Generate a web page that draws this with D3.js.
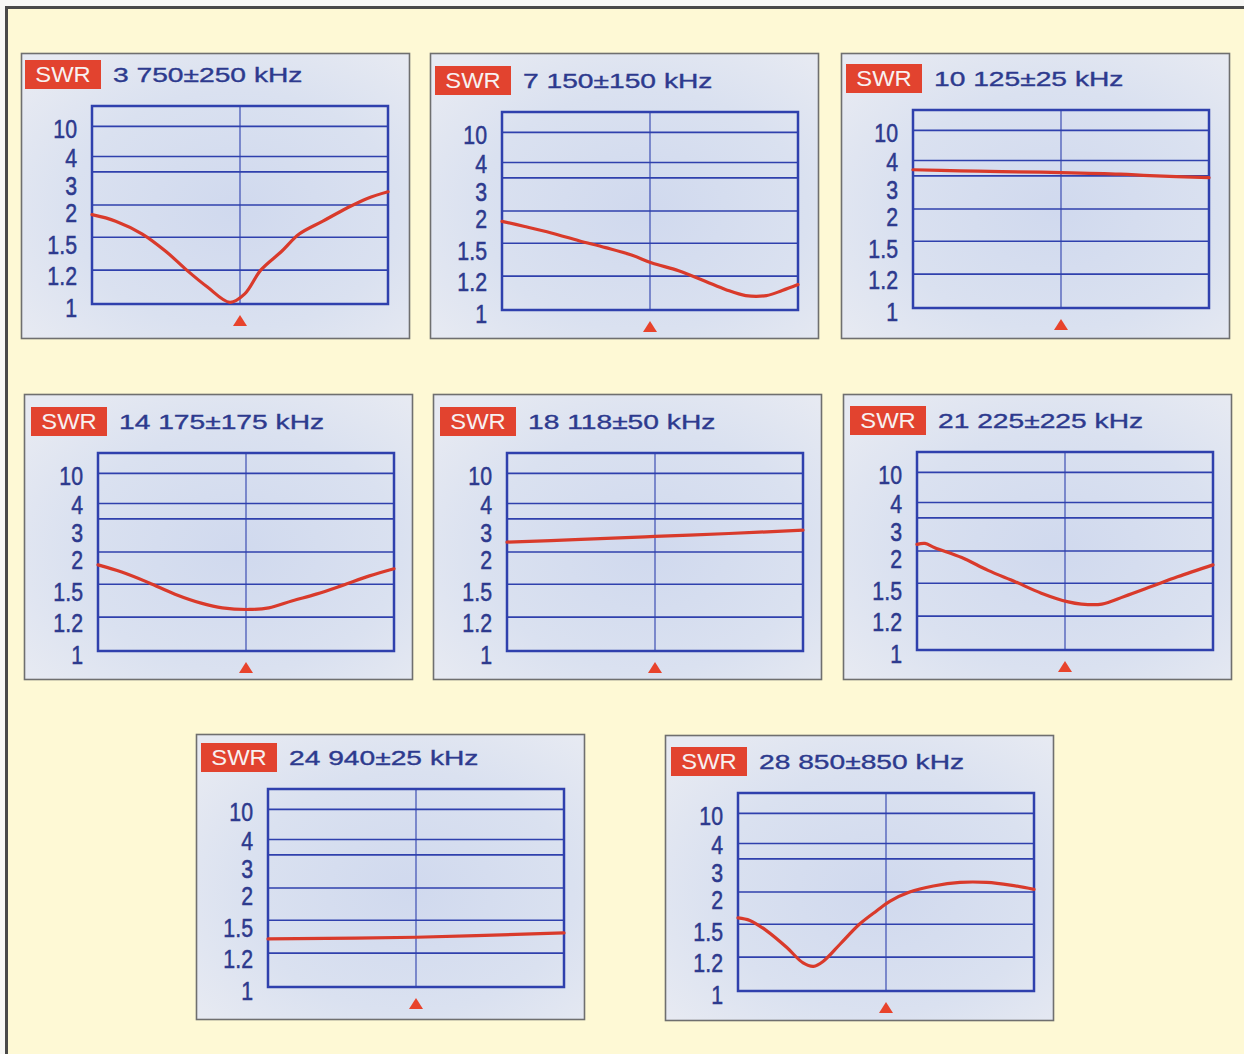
<!DOCTYPE html>
<html>
<head>
<meta charset="utf-8">
<script src="https://cdn.jsdelivr.net/npm/d3@7/dist/d3.min.js"></script>
<style>
  html, body { margin: 0; padding: 0; background: #f8f8f6; }
  svg { display: block; }
  text { font-family: "Liberation Sans", Arial, Helvetica, sans-serif; }
</style>
</head>
<body>
<svg id="chart" width="1244" height="1054"></svg>
<script>
// ---------------- DATA ----------------
const bandTitles = ["3 750±250 kHz", "7 150±150 kHz", "10 125±25 kHz", "14 175±175 kHz",
                    "18 118±50 kHz", "21 225±225 kHz", "24 940±25 kHz", "28 850±850 kHz"];
const bandCenters = [3750, 7150, 10125, 14175, 18118, 21225, 24940, 28850];
const bandSpans   = [250, 150, 25, 175, 50, 225, 25, 850];

const yTickValues = [1, 1.2, 1.5, 2, 3, 4, 10];
const yTickLabels = ["1", "1.2", "1.5", "2", "3", "4", "10"];

const freq80m = [3500, 3540, 3585, 3625, 3660, 3695, 3733, 3758, 3785, 3820, 3850, 3890, 3930, 3965, 4000];
const swr80m  = [1.85, 1.75, 1.55, 1.37, 1.20, 1.10, 1.01, 1.06, 1.20, 1.37, 1.55, 1.75, 1.95, 2.20, 2.40];

const freq40m = [7000, 7023, 7050, 7078, 7105, 7132, 7152, 7179, 7206, 7227, 7247, 7268, 7284, 7300];
const swr40m  = [1.84, 1.76, 1.66, 1.54, 1.46, 1.39, 1.32, 1.25, 1.17, 1.12, 1.085, 1.085, 1.115, 1.15];

const freq30m = [10100, 10108, 10115, 10125, 10135, 10140, 10150];
const swr30m  = [3.40, 3.33, 3.28, 3.22, 3.12, 3.02, 2.95];

const freq20m = [14000, 14028, 14060, 14091, 14123, 14147, 14179, 14202, 14230, 14258, 14289, 14321, 14350];
const swr20m  = [1.80, 1.69, 1.525, 1.41, 1.326, 1.285, 1.27, 1.285, 1.35, 1.41, 1.49, 1.63, 1.74];

const freq17m = [18068, 18093, 18118, 18143, 18168];
const swr17m  = [2.30, 2.38, 2.47, 2.56, 2.66];

const freq15m = [21000, 21012, 21027, 21068, 21108, 21149, 21189, 21230, 21250, 21281, 21315, 21356, 21396, 21450];
const swr15m  = [2.20, 2.23, 2.10, 1.90, 1.70, 1.525, 1.41, 1.33, 1.31, 1.31, 1.38, 1.47, 1.60, 1.785];

const freq12m = [24915, 24940, 24965];
const swr12m  = [1.33, 1.345, 1.385];

const freq10m = [28000, 28068, 28165, 28279, 28374, 28434, 28490, 28587, 28697, 28797, 28874, 28986, 29122, 29275, 29428, 29564, 29700];
const swr10m  = [1.60, 1.56, 1.44, 1.29, 1.166, 1.146, 1.176, 1.32, 1.50, 1.71, 1.86, 2.00, 2.18, 2.29, 2.29, 2.21, 2.08];

const seriesFreq = [freq80m, freq40m, freq30m, freq20m, freq17m, freq15m, freq12m, freq10m];
const seriesSwr  = [swr80m, swr40m, swr30m, swr20m, swr17m, swr15m, swr12m, swr10m];

// ---------------- LAYOUT ----------------
const panelLayout = [
  {x: 21,  y: 53,  px: 92,  py: 106},
  {x: 430, y: 53,  px: 502, py: 112},
  {x: 841, y: 53,  px: 913, py: 110},
  {x: 24,  y: 394, px: 98,  py: 453},
  {x: 433, y: 394, px: 507, py: 453},
  {x: 843, y: 394, px: 917, py: 452},
  {x: 196, y: 734, px: 268, py: 789},
  {x: 665, y: 735, px: 738, py: 793}
];
const panelW = 388, panelH = 285;
const plotW = 296, plotH = 198;
// SWR display scale (non-linear, piecewise): domain top value marks the frame top
const yScaleDomain = [1, 1.2, 1.5, 2, 3, 4, 10, 20];
const yScaleFrac   = [0, 0.171, 0.337, 0.5, 0.667, 0.745, 0.897, 1];
// printed label positions (slightly off the grid lines in the original display)
const yLabelFrac   = [-0.02, 0.145, 0.298, 0.46, 0.60, 0.74, 0.888];

const COL_BLUE = "#2f40ad";
const COL_TEXT = "#2d3a8e";
const COL_RED  = "#d93a2b";
const COL_BOX  = "#e2432f";

const svg = d3.select("#chart");
const defs = svg.append("defs");
const grad = defs.append("radialGradient").attr("id", "lcd")
  .attr("cx", "55%").attr("cy", "55%").attr("r", "70%");
grad.append("stop").attr("offset", "0%").attr("stop-color", "#d0d9ee");
grad.append("stop").attr("offset", "60%").attr("stop-color", "#dae1f0");
grad.append("stop").attr("offset", "100%").attr("stop-color", "#e7eaf2");

// outer page frame
svg.append("rect").attr("x", 6.5).attr("y", 7.5).attr("width", 1300).attr("height", 1100)
  .attr("fill", "#fef9d5").attr("stroke", "#4a4a4a").attr("stroke-width", 3);

panelLayout.forEach((L, i) => {
  const g = svg.append("g");
  g.append("rect").attr("x", L.x + 0.5).attr("y", L.y + 0.5)
    .attr("width", panelW).attr("height", panelH)
    .attr("fill", "url(#lcd)").attr("stroke", "#6f6f6f").attr("stroke-width", 1.6);

  const x = d3.scaleLinear()
    .domain([bandCenters[i] - bandSpans[i], bandCenters[i] + bandSpans[i]])
    .range([L.px, L.px + plotW]);
  const y = d3.scaleLinear()
    .domain(yScaleDomain)
    .range(yScaleFrac.map(f => L.py + plotH - f * plotH));
  const yLab = d3.scaleLinear()
    .domain(yTickValues)
    .range(yLabelFrac.map(f => L.py + plotH - f * plotH));

  // header
  g.append("rect").attr("x", L.px - 67).attr("y", L.py - 46).attr("width", 76).attr("height", 29)
    .attr("fill", COL_BOX);
  g.append("text")
    .attr("transform", `translate(${L.px - 29},${L.py - 24}) scale(1.08,1)`)
    .attr("text-anchor", "middle").attr("font-size", 22).attr("fill", "#f7f1f1")
    .text("SWR");
  g.append("text")
    .attr("transform", `translate(${L.px + 21},${L.py - 24}) scale(1.41,1)`)
    .attr("font-size", 20).attr("fill", COL_TEXT)
    .attr("stroke", COL_TEXT).attr("stroke-width", 0.35)
    .text(bandTitles[i]);

  // grid
  const grid = g.append("g");
  grid.selectAll("line.h").data(yTickValues.slice(1)).enter().append("line")
    .attr("x1", L.px).attr("x2", L.px + plotW)
    .attr("y1", d => y(d)).attr("y2", d => y(d))
    .attr("stroke", COL_BLUE).attr("stroke-width", 1.7);
  grid.append("line")
    .attr("x1", x(bandCenters[i])).attr("x2", x(bandCenters[i]))
    .attr("y1", L.py).attr("y2", L.py + plotH)
    .attr("stroke", COL_BLUE).attr("stroke-width", 1.1);
  grid.append("rect").attr("x", L.px).attr("y", L.py).attr("width", plotW).attr("height", plotH)
    .attr("fill", "none").attr("stroke", COL_BLUE).attr("stroke-width", 2.5);

  // y labels
  g.selectAll("text.yl").data(yTickValues).enter().append("text")
    .attr("transform", d => `translate(${L.px - 15},${yLab(d) + 9.5}) scale(0.82,1)`)
    .attr("text-anchor", "end").attr("font-size", 26).attr("fill", COL_TEXT)
    .attr("stroke", COL_TEXT).attr("stroke-width", 0.5)
    .text((d, k) => yTickLabels[k]);

  // curve
  const pts = seriesFreq[i].map((f, k) => [f, seriesSwr[i][k]]);
  const line = d3.line().x(d => x(d[0])).y(d => y(d[1])).curve(d3.curveCatmullRom.alpha(0.5));
  g.append("path").attr("d", line(pts)).attr("fill", "none")
    .attr("stroke", COL_RED).attr("stroke-width", 3.2).attr("stroke-linejoin", "round")
    .attr("stroke-linecap", "round");

  // center marker
  const cx = x(bandCenters[i]), ty = L.py + plotH + 11;
  g.append("path").attr("d", `M${cx},${ty} L${cx + 7},${ty + 11} L${cx - 7},${ty + 11} Z`)
    .attr("fill", "#e8432c");
});
</script>
</body>
</html>
